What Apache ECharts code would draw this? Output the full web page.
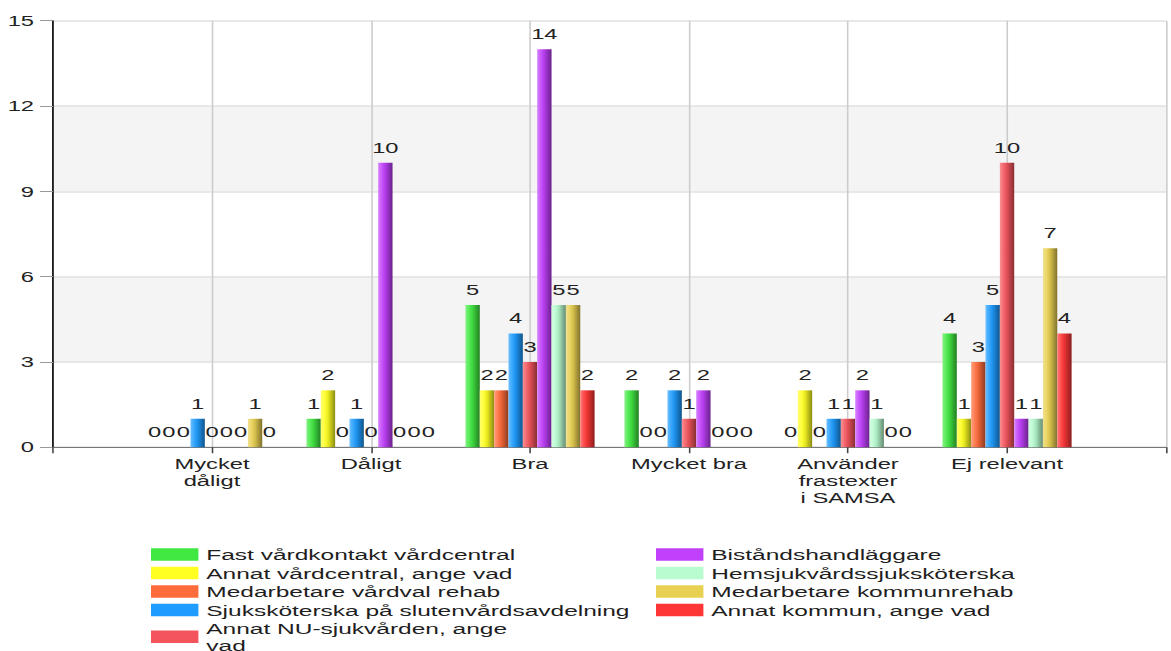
<!DOCTYPE html>
<html>
<head>
<meta charset="utf-8">
<script src="https://cdn.jsdelivr.net/npm/echarts@6/dist/echarts.min.js"></script>
<style>
  html, body { margin: 0; padding: 0; background: #fff; overflow: hidden; }
  #wrap { width: 1171px; height: 651px; overflow: hidden; }
  #chart { height: 700px; transform-origin: 0 0; }
</style>
</head>
<body>
<div id="wrap"><div id="chart"></div></div>
<script>
// Answer categories (x axis)
const categories = ['Mycket\ndåligt', 'Dåligt', 'Bra', 'Mycket bra', 'Använder\nfrastexter\ni SAMSA', 'Ej relevant'];

// Respondent groups
const seriesNames = [
  'Fast vårdkontakt vårdcentral',
  'Annat vårdcentral, ange vad',
  'Medarbetare vårdval rehab',
  'Sjuksköterska på slutenvårdsavdelning',
  'Annat NU-sjukvården, ange vad',
  'Biståndshandläggare',
  'Hemsjukvårdssjuksköterska',
  'Medarbetare kommunrehab',
  'Annat kommun, ange vad'
];
const legendLabels = [
  'Fast vårdkontakt vårdcentral',
  'Annat vårdcentral, ange vad',
  'Medarbetare vårdval rehab',
  'Sjuksköterska på slutenvårdsavdelning',
  'Annat NU-sjukvården, ange\nvad',
  'Biståndshandläggare',
  'Hemsjukvårdssjuksköterska',
  'Medarbetare kommunrehab',
  'Annat kommun, ange vad'
];

// Answer counts per group
const fastVardkontakt    = [0, 1, 5, 2, 0, 4];
const annatVardcentral   = [0, 2, 2, 0, 2, 1];
const medarbetareVardval = [0, 0, 2, 0, 0, 3];
const sjukskoterska      = [1, 1, 4, 2, 1, 5];
const annatNU            = [0, 0, 3, 1, 1, 10];
const bistand            = [0, 10, 14, 2, 2, 1];
const hemsjukvard        = [0, 0, 5, 0, 1, 1];
const kommunrehab        = [1, 0, 5, 0, 0, 7];
const annatKommun        = [0, 0, 2, 0, 0, 4];

// Y axis ticks
const yTicks = [0, 3, 6, 9, 12, 15];

const seriesValues = [fastVardkontakt, annatVardcentral, medarbetareVardval, sjukskoterska,
  annatNU, bistand, hemsjukvard, kommunrehab, annatKommun];
const seriesColors = ['#42e842', '#ffff22', '#ff6c3c', '#1e9cff', '#f4555c',
  '#c040fc', '#b8fcd0', '#e8d052', '#ff3636'];

// The drawing is laid out narrow and widened horizontally
const SX = 1.58;
const W = 1171 / SX;
const chartEl = document.getElementById('chart');
chartEl.style.width = W + 'px';
chartEl.style.transform = 'scaleX(' + SX + ')';

function mix(hex, target, t) {
  const n = parseInt(hex.slice(1), 16);
  const r = (n >> 16) & 255, g = (n >> 8) & 255, b = n & 255;
  const f = v => Math.round(v + (target - v) * t);
  return 'rgb(' + f(r) + ',' + f(g) + ',' + f(b) + ')';
}
function barGradient(c) {
  return {
    type: 'linear', x: 0, y: 0, x2: 1, y2: 0,
    colorStops: [
      { offset: 0, color: mix(c, 255, 0.35) },
      { offset: 0.25, color: mix(c, 255, 0.12) },
      { offset: 0.5, color: mix(c, 0, 0.08) },
      { offset: 1, color: mix(c, 0, 0.45) }
    ]
  };
}

// Empty slots at both ends keep the groups away from the axes
const paddedCats = [''].concat(categories, ['']);
const pad = arr => ['-'].concat(arr, ['-']);

const FONT = '"Liberation Sans", Arial, sans-serif';

const series = seriesNames.map((name, i) => ({
  name: name,
  type: 'bar',
  data: pad(seriesValues[i]),
  barWidth: 14.35 / SX,
  barGap: '0%',
  itemStyle: { color: barGradient(seriesColors[i]) },
  label: {
    show: true,
    position: 'top',
    distance: 8,
    color: '#222',
    fontSize: 15,
    fontFamily: FONT
  }
}));

function legendFor(indices, left) {
  return {
    orient: 'vertical',
    left: left,
    top: 546.25,
    height: 140,
    padding: 0,
    itemGap: 2,
    itemWidth: 30,
    itemHeight: 12.3,
    icon: 'rect',
    data: indices.map(i => ({ name: seriesNames[i], itemStyle: { color: seriesColors[i] } })),
    formatter: name => legendLabels[seriesNames.indexOf(name)],
    textStyle: { color: '#1e1e1e', fontSize: 15.5, lineHeight: 16.5, fontFamily: FONT },
    selectedMode: false
  };
}

const chart = echarts.init(chartEl, null, { renderer: 'svg' });
chart.setOption({
  animation: false,
  backgroundColor: '#fff',
  grid: { left: 53 / SX, top: 20.7, width: 1129.5 / SX, height: 426.5, containLabel: false },
  legend: [legendFor([0, 1, 2, 3, 4], 151 / SX), legendFor([5, 6, 7, 8], 656 / SX)],
  xAxis: {
    type: 'category',
    data: paddedCats,
    boundaryGap: false,
    axisLine: { lineStyle: { color: '#777', width: 1 } },
    axisTick: { show: true, length: 6, interval: 0, lineStyle: { color: '#444' } },
    axisLabel: { interval: 0, margin: 8, color: '#222', fontSize: 15, lineHeight: 17, fontFamily: FONT },
    splitLine: { show: true, interval: 0, lineStyle: { color: '#cccccc', width: 1 } }
  },
  yAxis: {
    type: 'value',
    min: yTicks[0],
    max: yTicks[yTicks.length - 1],
    interval: yTicks[1] - yTicks[0],
    axisLine: { show: true, lineStyle: { color: '#000', width: 1 } },
    axisTick: { show: true, length: 13 / SX, lineStyle: { color: '#999' } },
    axisLabel: { margin: 19 / SX, color: '#222', fontSize: 15, fontFamily: FONT },
    splitLine: { show: true, lineStyle: { color: '#e0e0e0', width: 1.5 } },
    splitArea: { show: true, areaStyle: { color: ['#ffffff', '#f4f4f4'] } }
  },
  series: series
});
</script>
</body>
</html>
